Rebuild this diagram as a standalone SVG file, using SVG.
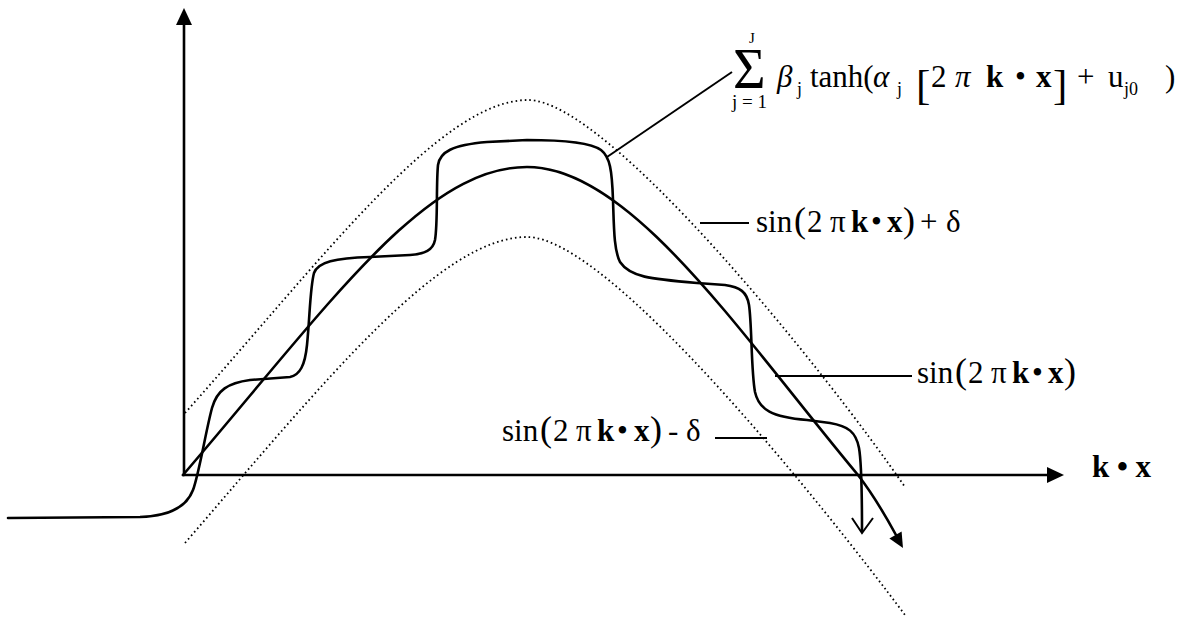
<svg xmlns="http://www.w3.org/2000/svg" width="1180" height="617" viewBox="0 0 1180 617">
<style>
.ln{fill:none;stroke:#000;stroke-width:2.6;stroke-linejoin:round;stroke-linecap:round}
.dot{fill:none;stroke:#000;stroke-width:1.8;stroke-dasharray:1.6 3}
.lead{fill:none;stroke:#000;stroke-width:2}
.t{font-family:"Liberation Serif","Times New Roman",serif;font-size:31px;fill:#000}
.b{font-weight:bold}
.i{font-style:italic}
.s{font-size:18px}
.br{font-size:43px}
.p{font-size:36px}
</style>
<rect width="1180" height="617" fill="#fff"/>
<g id="axes">
<line class="ln" x1="184" y1="475" x2="184" y2="22"/>
<polygon points="184,8 176,25 192,25"/>
<line class="ln" x1="183" y1="475" x2="1049" y2="475"/>
<polygon points="1064,475 1047,467 1047,483"/>
</g>
<g id="connectors">
<path id="sine" class="ln" d="M183,475 C333,300 425,167 527,167 C630,167 738,331 858,475 C872,493 884,513 896,535"/>
<polygon points="903,548 889.4,538.5 901.6,531.5"/>
<path id="upper" class="dot" d="M185,413 C320,262 440,100 528,100 C608,100 825,371 905,487"/>
<path id="lower" class="dot" d="M185,543 C325,381 440,237 527,237 C610,237 825,508 905,615"/>
<path id="tanh" class="ln" d="M8,518 L140,517 C172,516 187,506 193,490 C199,474 206,430 212,408 C217,390 228,383 250,380 L290,377 C300,375 305,365 307,345 C310,315 310,288 314,273 C318,262 335,258 370,257 L410,255 C425,254 433,250 435,240 C438,222 436,185 438,165 C440,152 452,145 487,142 L527,140 C560,140 590,142 601,150 C610,157 612,170 613,200 C614,230 614,250 620,262 C630,277 650,279 697,283 L725,285 C740,287 747,292 749,305 C752,325 751,370 755,392 C759,410 772,417 807,420 L830,423 C848,426 856,432 859,448 C862,465 862,500 862,531"/>
<polyline class="lead" points="852,518 862,533 873,518"/>
<line class="lead" x1="607" y1="157" x2="732" y2="72"/>
<line class="lead" x1="700" y1="223" x2="749" y2="223"/>
<line class="lead" x1="775" y1="376" x2="912" y2="376"/>
<line class="lead" x1="715" y1="438" x2="767" y2="438"/>
</g>
<g id="label-sum" class="t">
<text x="733" y="88" style="font-size:56px">Σ</text>
<text x="749" y="43" style="font-size:15px">J</text>
<text x="732" y="108" style="font-size:19px" xml:space="preserve">j = 1</text>
<text y="87"><tspan x="777" class="i">β</tspan><tspan x="797" y="95" class="s">j</tspan><tspan x="810" y="87">tanh(</tspan><tspan x="873" class="i">α</tspan><tspan x="897" y="95" class="s">j</tspan><tspan x="916" y="99" class="br">[</tspan><tspan x="931" y="87">2</tspan><tspan x="955" class="i">π</tspan><tspan x="986" class="b">k</tspan><tspan x="1015">•</tspan><tspan x="1036" class="b">x</tspan><tspan x="1053" y="99" class="br">]</tspan><tspan x="1077" y="87">+</tspan><tspan x="1108">u</tspan><tspan x="1124" y="95" class="s">j0</tspan><tspan x="1165" y="87">)</tspan></text>
</g>
<g id="label-upper" class="t">
<text y="232"><tspan x="756">sin</tspan><tspan x="794" class="p">(</tspan><tspan x="807">2</tspan><tspan x="830">π</tspan><tspan x="851" class="b">k</tspan><tspan x="871">•</tspan><tspan x="887" class="b">x</tspan><tspan x="903" class="p">)</tspan><tspan x="920">+</tspan><tspan x="946">δ</tspan></text>
</g>
<g id="label-sine" class="t">
<text y="383"><tspan x="917">sin</tspan><tspan x="955" class="p">(</tspan><tspan x="968">2</tspan><tspan x="991">π</tspan><tspan x="1012" class="b">k</tspan><tspan x="1032">•</tspan><tspan x="1048" class="b">x</tspan><tspan x="1064" class="p">)</tspan></text>
</g>
<g id="label-lower" class="t">
<text y="441"><tspan x="502">sin</tspan><tspan x="540" class="p">(</tspan><tspan x="553">2</tspan><tspan x="576">π</tspan><tspan x="597" class="b">k</tspan><tspan x="617">•</tspan><tspan x="634" class="b">x</tspan><tspan x="650" class="p">)</tspan><tspan x="668">-</tspan><tspan x="686">δ</tspan></text>
</g>
<g id="label-axis" class="t b">
<text x="1092" y="477" xml:space="preserve">k • x</text>
</g>
</svg>
